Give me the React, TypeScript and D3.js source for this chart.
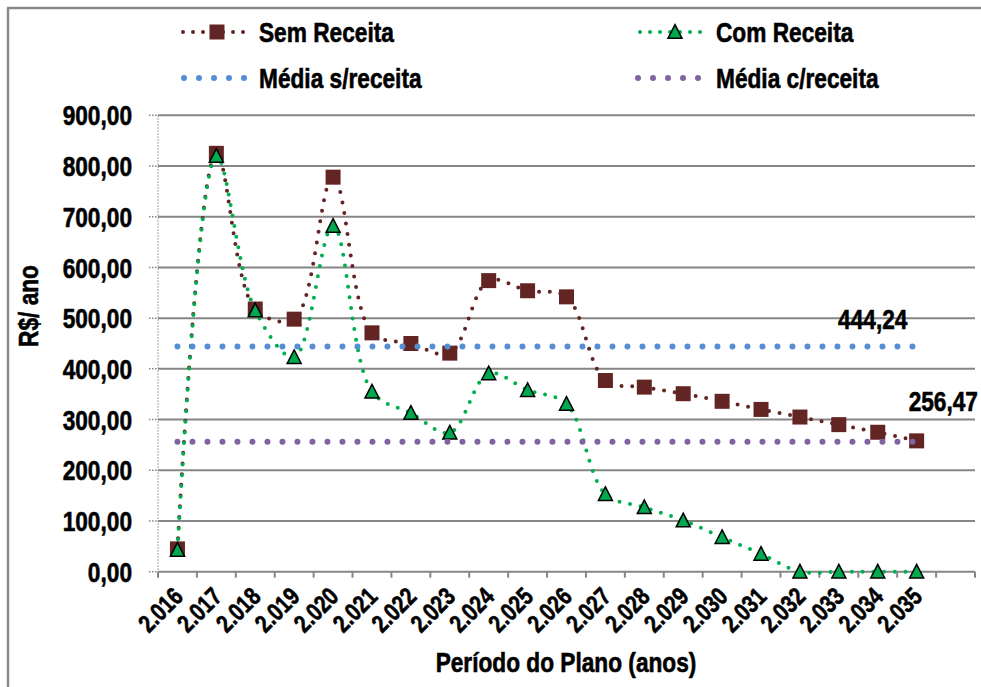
import React from "react";
import * as d3 from "d3";

const categories = ["2.016","2.017","2.018","2.019","2.020","2.021","2.022","2.023","2.024","2.025","2.026","2.027","2.028","2.029","2.030","2.031","2.032","2.033","2.034","2.035",""];
const semReceita = [45, 825, 518, 498, 778, 471, 450, 431, 574, 554, 542, 377, 364, 351, 336, 320, 305, 290, 275, 258];
const comReceita = [43, 820, 515, 423, 682, 355, 313, 274, 391, 358, 331, 153, 127, 101, 68, 35, 0, 0, 0, 0];
const mediaSem = 444.24;
const mediaCom = 256.47;
const yTicks = [0, 100, 200, 300, 400, 500, 600, 700, 800, 900];

const W = 981, H = 687;
const FONT = "'Liberation Sans', Arial, sans-serif";
const BROWN = "#632523";
const GREEN = "#00B050";
const GREEN_FILL = "#00A84F";
const BLUE = "#558ED5";
const PURPLE = "#8064A2";
const GRID = "#868686";
const SX = 0.81;

const fmt = (v: number) => v.toFixed(2).replace(".", ",");

type TProps = { x: number; y: number; size?: number; anchor?: "start" | "middle" | "end"; rotate?: number; dy?: string; children: React.ReactNode };
function T({ x, y, size = 28, anchor = "start", rotate = 0, dy, children }: TProps) {
  return (
    <text
      transform={`translate(${x},${y}) rotate(${rotate}) scale(${SX},1)`}
      textAnchor={anchor}
      fontSize={size}
      dy={dy}
      fill="#000"
      stroke="#000"
      strokeWidth={0.6}
    >
      {children}
    </text>
  );
}

export default function App() {
  const x = d3.scaleBand<string>().domain(categories.map((c, i) => String(i))).range([158, 975]).padding(0);
  const y = d3.scaleLinear().domain([0, 900]).range([571.7, 115.3]);
  const cx = (i: number) => (x(String(i)) as number) + x.bandwidth() / 2;

  const line = d3.line<number>().x((_, i) => cx(i)).y((d) => y(d)).curve(d3.curveCatmullRom.alpha(0.5));
  const flat = (v: number) => d3.line<number>().x((_, i) => cx(i)).y(() => y(v))(semReceita) as string;

  const tickXs = d3.range(categories.length + 1).map((i) => 158 + i * x.bandwidth());
  const tri = (px: number, py: number, s: number) => {
    const h = s * 0.9;
    return `M${px},${py - h / 2 - 1}L${px + s / 2},${py + h / 2}L${px - s / 2},${py + h / 2}Z`;
  };

  const dotsSeries = { strokeWidth: 4, strokeDasharray: "0 10.7", strokeLinecap: "round" as const, fill: "none" };

  return (
    <svg width={W} height={H} style={{ position: "absolute", left: 0, top: 0, background: "#fff" }} fontFamily={FONT} fontWeight="bold">
      {/* frame */}
      <line x1={8} y1={8} x2={8} y2={H} stroke="#8a8a8a" strokeWidth={2.5} />
      <line x1={7} y1={8} x2={W} y2={8} stroke="#8a8a8a" strokeWidth={2.5} />

      {/* legend */}
      <g>
        <line x1={183} x2={251} y1={32} y2={32} stroke={BROWN} strokeWidth={4} strokeDasharray="0 10" strokeLinecap="round" />
        <rect x={209.5} y={24.5} width={15} height={15} fill={BROWN} />
        <T x={259} y={42}>Sem Receita</T>
        <line x1={640} x2={710} y1={32} y2={32} stroke={GREEN} strokeWidth={4} strokeDasharray="0 10" strokeLinecap="round" />
        <path d={tri(675, 32, 14)} fill={GREEN_FILL} stroke="#000" strokeWidth={1.5} />
        <T x={716} y={42}>Com Receita</T>
        <line x1={184} x2={245} y1={78} y2={78} stroke={BLUE} strokeWidth={6} strokeDasharray="0 15" strokeLinecap="round" />
        <T x={259} y={88}>Média s/receita</T>
        <line x1={638} x2={699} y1={78} y2={78} stroke={PURPLE} strokeWidth={6} strokeDasharray="0 15" strokeLinecap="round" />
        <T x={716} y={88}>Média c/receita</T>
      </g>

      {/* gridlines */}
      {yTicks.filter((t) => t > 0).map((t) => (
        <line key={t} x1={158} x2={975} y1={y(t)} y2={y(t)} stroke={GRID} strokeWidth={2} />
      ))}
      {/* y axis */}
      <line x1={158} x2={158} y1={y(900)} y2={y(0)} stroke={GRID} strokeWidth={1} strokeDasharray="1.5 1.5" />
      {yTicks.map((t) => (
        <g key={t}>
          <line x1={149} x2={158} y1={y(t)} y2={y(t)} stroke={GRID} strokeWidth={1.5} strokeDasharray="1.5 1.5" />
          <T x={132} y={y(t)} dy="0.36em" anchor="end">{fmt(t)}</T>
        </g>
      ))}
      {/* x axis */}
      <line x1={158} x2={975} y1={y(0)} y2={y(0)} stroke={GRID} strokeWidth={2} />
      {tickXs.map((tx, i) => (
        <line key={i} x1={tx} x2={tx} y1={y(0)} y2={y(0) + 6} stroke={GRID} strokeWidth={2} />
      ))}
      {categories.map((c, i) => c && (
        <T key={c} x={cx(i) + 7} y={598} rotate={-45} anchor="end" size={25}>{c}</T>
      ))}

      {/* series: Sem Receita */}
      <path d={line(semReceita) as string} {...dotsSeries} stroke={BROWN} />
      {semReceita.map((v, i) => (
        <rect key={i} x={cx(i) - 7.5} y={y(v) - 7.5} width={15} height={15} fill={BROWN} />
      ))}
      {/* series: Com Receita */}
      <path d={line(comReceita) as string} {...dotsSeries} stroke={GREEN} />
      {comReceita.map((v, i) => (
        <path key={i} d={tri(cx(i), y(v), 14)} fill={GREEN_FILL} stroke="#000" strokeWidth={1.5} />
      ))}
      {/* averages */}
      <path d={flat(mediaSem)} fill="none" stroke={BLUE} strokeWidth={6} strokeDasharray="0 15" strokeLinecap="round" />
      <path d={flat(mediaCom)} fill="none" stroke={PURPLE} strokeWidth={6} strokeDasharray="0 15" strokeLinecap="round" />

      {/* data labels */}
      <T x={cx(18) - 5} y={y(mediaSem) - 17} anchor="middle">{fmt(mediaSem)}</T>
      <T x={cx(19) - 8} y={y(mediaCom) - 31}>{fmt(mediaCom)}</T>

      {/* axis titles */}
      <T x={38} y={306} rotate={-90} anchor="middle">R$/ ano</T>
      <T x={566} y={672} anchor="middle">Período do Plano (anos)</T>
    </svg>
  );
}
